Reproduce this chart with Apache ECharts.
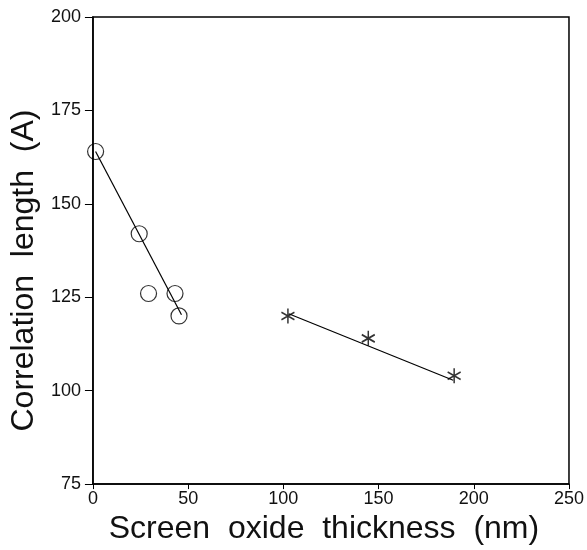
<!DOCTYPE html>
<html>
<head>
<meta charset="utf-8">
<script src="https://cdn.jsdelivr.net/npm/echarts@6/dist/echarts.min.js"></script>
<style>
  html, body { margin: 0; padding: 0; background: #fff; }
  #chart { width: 587px; height: 550px; }
</style>
</head>
<body>
<div id="chart"></div>
<script>
// thin oxide samples (circles)
var circleX = [1.4, 24.3, 29.2, 43.1, 45.2];
var circleY = [164, 142, 126, 126, 120];
// thick oxide samples (stars)
var starX = [102.4, 144.6, 189.7];
var starY = [120, 114, 104];
// fitted lines, end points
var fitThinX = [1.4, 46.5];
var fitThinY = [164, 120.3];
var fitThickX = [102.8, 189.2];
var fitThickY = [120.6, 102.8];

var xTicks = [0, 50, 100, 150, 200, 250];
var yTicks = [75, 100, 125, 150, 175, 200];

function pairs(xs, ys) {
  return xs.map(function (x, i) { return [x, ys[i]]; });
}

var chart = echarts.init(document.getElementById('chart'), null, { renderer: 'canvas' });

var font = '"Liberation Sans", Arial, sans-serif';
var starPath = 'path://M0,-6L0,6M-5.2,-3L5.2,3M-5.2,3L5.2,-3';

var option = {
  animation: false,
  backgroundColor: '#fff',
  grid: {
    left: 91,
    right: 16,
    top: 17,
    bottom: 59,
    show: true,
    borderColor: '#000',
    borderWidth: 1.5
  },
  xAxis: {
    type: 'value',
    min: xTicks[0],
    max: xTicks[xTicks.length - 1],
    interval: 50,
    name: 'Screen  oxide  thickness  (nm)',
    nameLocation: 'middle',
    nameGap: 23,
    nameTextStyle: { fontFamily: font, fontSize: 32, color: '#111', padding: [0, 14, 0, 0] },
    axisLine: { lineStyle: { color: '#000', width: 1.5 } },
    axisTick: { show: true, inside: false, length: 5, lineStyle: { color: '#000' } },
    axisLabel: { fontFamily: font, fontSize: 18, color: '#111', margin: 6 },
    splitLine: { show: false }
  },
  yAxis: {
    type: 'value',
    min: yTicks[0],
    max: yTicks[yTicks.length - 1],
    interval: 25,
    name: 'Correlation  length  (A)',
    nameLocation: 'middle',
    nameGap: 52,
    nameTextStyle: { fontFamily: font, fontSize: 32, color: '#111', padding: [0, 40, 0, 0] },
    axisLine: { lineStyle: { color: '#000', width: 1.5 } },
    axisTick: { show: true, inside: false, length: 8, lineStyle: { color: '#000' } },
    axisLabel: { fontFamily: font, fontSize: 18, color: '#111', margin: 12 },
    splitLine: { show: false }
  },
  series: [
    {
      type: 'line',
      data: pairs(fitThinX, fitThinY),
      showSymbol: false,
      lineStyle: { color: '#000', width: 1.2 },
      z: 2
    },
    {
      type: 'line',
      data: pairs(fitThickX, fitThickY),
      showSymbol: false,
      lineStyle: { color: '#000', width: 1.2 },
      z: 2
    },
    {
      type: 'scatter',
      data: pairs(circleX, circleY),
      symbol: 'circle',
      symbolSize: 16,
      itemStyle: { color: 'rgba(0,0,0,0)', borderColor: '#000', borderWidth: 1.2 },
      z: 3
    },
    {
      type: 'scatter',
      data: pairs(starX, starY),
      symbol: starPath,
      symbolSize: [13, 15],
      itemStyle: { color: 'rgba(0,0,0,0)', borderColor: '#000', borderWidth: 1.6 },
      z: 3
    }
  ]
};

chart.setOption(option);
</script>
</body>
</html>
